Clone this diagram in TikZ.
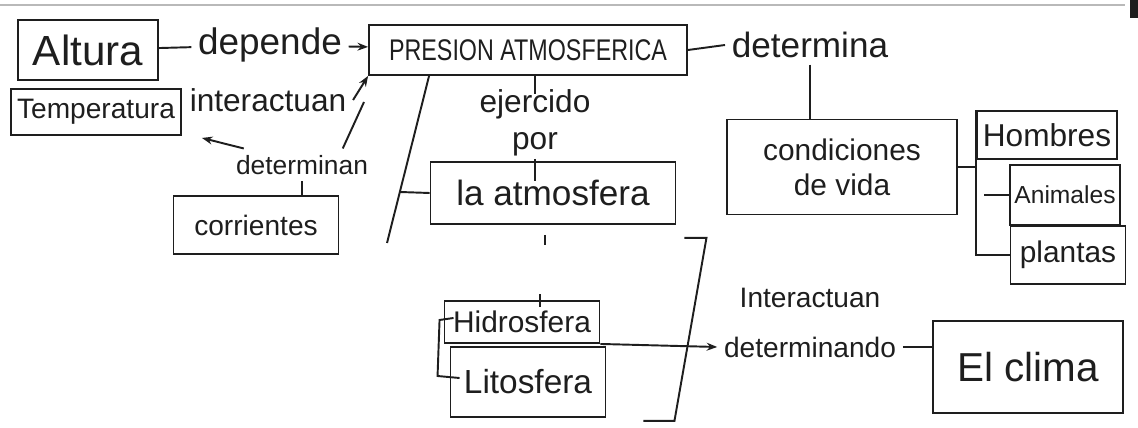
\documentclass[tikz,border=0pt]{standalone}
\usepackage{fontspec}
\setmainfont{Liberation Sans}
\newfontfamily\narrowfont[FakeStretch=0.78]{Liberation Sans}
\usepackage{tikz}
\usetikzlibrary{arrows.meta,calc}

\definecolor{ink}{HTML}{1E1E1E}
\newcommand{\hs}[1]{\fontsize{#1}{#1}\selectfont}

\begin{document}
\begin{tikzpicture}[x=0.02cm, y=-0.02cm, line width=1.1pt, draw=ink,
    every node/.style={font=\hs{18}, text=ink},
    box/.style={draw=ink, line width=1.1pt, inner sep=0pt},
    link/.style={-{Stealth[length=6pt]}}]
  \useasboundingbox (0,0) rectangle (1138,428);

  % Scan edge
  \draw[gray!55, line width=0.8pt] (0,5) -- (1125,5);
  \fill[ink] (1130,0) rectangle (1138,18);

  % Central concept
  \node[box, minimum width=6.36cm, minimum height=1cm, font=\narrowfont\hs{17}]
    (pres) at (528,50) {PRESION ATMOSFERICA};

  % Left side
  \node[box, minimum width=2.8cm, minimum height=1.2cm, font=\hs{24}]
    (alt) at (88,50) {Altura};
  \node[box, minimum width=3.4cm, minimum height=0.92cm, font=\hs{16}]
    (temp) at (96,112) {Temperatura};
  \node[font=\hs{21}] (dep) at (270,45) {depende};
  \node (inter) at (268,100) {interactuan};
  \node[font=\hs{15}] (detn) at (302,165) {determinan};
  \node[box, minimum width=3.3cm, minimum height=1.16cm, font=\hs{16}]
    (corr) at (256,225) {corrientes};

  \draw (alt) -- (dep);
  \draw[link] (dep) -- (pres);
  \draw[link] (inter.east) -- (pres.south west);
  \coordinate (dtop) at (364,102);
  \draw (dtop) -- ($(detn.north west)!0.78!(detn.north east)$);
  \draw[link] ($(detn.north west)!0.1!(detn.north east)$)
    -- ($(temp.south east)+(20,2)$);
  \draw (detn.south) -- (detn.south |- corr.north);

  % Middle column
  \node[align=center, inner sep=1pt, font=\fontsize{18}{21}\selectfont]
    (ejer) at (535,123) {ejercido\\por};
  \node[box, minimum width=4.9cm, minimum height=1.24cm, font=\hs{20}]
    (atm) at (553,193) {la atmosfera};
  \draw (ejer.north |- pres.south) -- ++(0,18);
  \draw (ejer.south) -- ++(0,22);

  \coordinate (ltop) at ($(pres.south west)+(61,0)$);
  \coordinate (lend) at (387,243);
  \coordinate (lknee) at (400,192);
  \draw (ltop) -- (lend);
  \draw (atm.west) -- (lknee);
  \draw ($(atm.south)+(-8,10)$) -- ++(0,10);

  \node[box, minimum width=3.1cm, minimum height=0.84cm, font=\hs{17}]
    (hidr) at (522,322) {Hidrosfera};
  \node[box, minimum width=3.1cm, minimum height=1.4cm, font=\hs{19}]
    (lito) at (528,382) {Litosfera};
  \draw ($(hidr.north)+(18,-6)$) -- ++(0,13);
  % brackets
  \draw ($(hidr.west)+(10,-4)$) -- ++(-14,2) -- ++(-2,56) -- ++(22,2);
  \draw ($(atm.south east)+(8,13)$) -- ++(22,0) -- ++(-32,183) -- ++(-31,0);

  % Right side
  \node[font=\hs{20}] (detr) at (810,45) {determina};
  \node[box, minimum width=4.6cm, minimum height=1.9cm, align=center,
        font=\fontsize{17}{20}\selectfont]
    (cond) at (842,167) {condiciones\\de vida};
  \node[box, minimum width=2.8cm, minimum height=0.96cm]
    (homb) at (1047,135) {Hombres};
  \node[box, minimum width=2.2cm, minimum height=1.2cm, font=\hs{14}]
    (anim) at (1065,195) {Animales};
  \node[box, minimum width=2.3cm, minimum height=1.16cm, font=\hs{17}]
    (plan) at (1068,255) {plantas};

  \draw (pres.east) -- (detr.west);
  \draw (detr.south) -- (detr.south |- cond.north);
  \draw (cond.east) -- (cond.east -| homb.west);
  \draw (homb.north west) -- (homb.west |- plan.west) -- (plan.west);
  \draw ($(homb.west |- anim.west)+(8,0)$) -- (anim.west);

  % Bottom right
  \node[font=\hs{16}] (inter2) at (810,298) {Interactuan};
  \node[font=\hs{16}] (detm) at (810,347) {determinando};
  \node[box, minimum width=3.8cm, minimum height=1.84cm, font=\hs{23}]
    (clima) at (1028,367) {El clima};

  \draw[link] (hidr.south east) -- (detm.west);
  \draw (detm.east) -- (detm.east -| clima.west);
\end{tikzpicture}
\end{document}
